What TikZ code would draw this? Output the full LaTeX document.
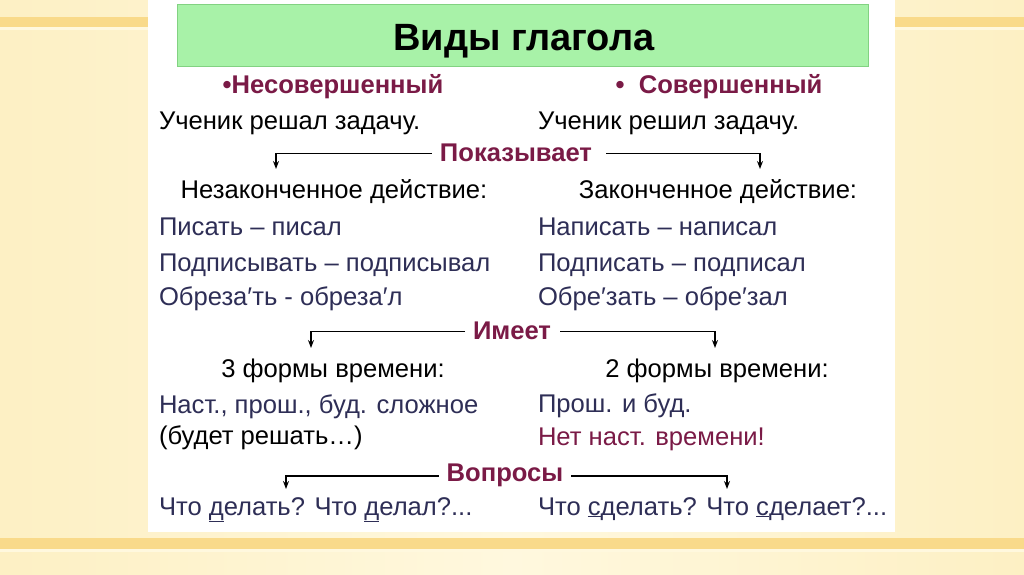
\documentclass[tikz,border=0pt]{standalone}
\usepackage{fontspec}
\setmainfont{Liberation Sans}
\usetikzlibrary{arrows.meta}
\definecolor{maroon}{RGB}{122,26,70}
\definecolor{navy}{RGB}{46,46,86}
\definecolor{bgyel}{RGB}{253,240,196}
\definecolor{bglight}{RGB}{255,248,222}
\definecolor{stripe}{RGB}{249,218,138}
\definecolor{titlefill}{RGB}{168,242,168}
\definecolor{titledraw}{RGB}{130,210,130}
\begin{document}
\begin{tikzpicture}[x=1pt,y=-1pt,
  every node/.style={inner sep=0pt,outer sep=0pt},
  txt/.style={anchor=base west,font=\fontsize{25.6}{30}\selectfont},
  ctr/.style={anchor=base,font=\fontsize{25.6}{30}\selectfont},
  hdr/.style={anchor=base,font=\fontsize{25.6}{30}\selectfont\bfseries,text=maroon},
  ex/.style={txt,text=navy},
  arr/.style={line width=1.6pt,-{Stealth[length=8pt,width=6pt]}}]
\useasboundingbox (0,0) rectangle (1024,574);
% background
\shade[left color=bgyel,right color=bgyel,middle color=bglight] (0,0) rectangle (1024,574);
\fill[stripe] (0,17) rectangle (1024,27);
\fill[bglight] (0,27) rectangle (1024,30);
\fill[stripe] (0,538) rectangle (1024,549);
\fill[bglight] (0,549) rectangle (1024,552);
% white panel
\fill[white] (148,0) rectangle (895,532);
% title
\node[draw=titledraw,fill=titlefill,line width=1pt,minimum width=691pt,minimum height=62pt,anchor=north west] (titlebox) at (177,4) {};
\node[anchor=base,font=\fontsize{38}{44}\selectfont\bfseries] (title) at (524,50) {Виды глагола};
% headers
\node[hdr] (nesov) at (333,93) {•Несовершенный};
\node[hdr] (sov) at (719,93) {•\ \ Совершенный};
\node[txt] (exL) at (159,129) {Ученик решал задачу.};
\node[txt] (exR) at (538,129) {Ученик решил задачу.};
% Показывает
\node[hdr] (pok) at (516,161) {Показывает};
\coordinate (pokL) at (276,169);
\coordinate (pokR) at (760,169);
\draw[arr] ([xshift=-8pt,yshift=-1pt]pok.west) -| (pokL);
\draw[arr] ([xshift=14pt,yshift=-1pt]pok.east) -| (pokR);
\node[ctr] (nezak) at (334,198) {Незаконченное действие:};
\node[ctr] (zak) at (718,198) {Законченное действие:};
\node[ex] (l1) at (159,235) {Писать – писал};
\node[ex] (l2) at (159,271) {Подписывать – подписывал};
\node[ex] (l3) at (159,305) {Обреза′ть - обреза′л};
\node[ex] (r1) at (538,235) {Написать – написал};
\node[ex] (r2) at (538,271) {Подписать – подписал};
\node[ex] (r3) at (538,305) {Обре′зать – обре′зал};
% Имеет
\node[hdr] (imeet) at (512,339) {Имеет};
\coordinate (imL) at (311,348);
\coordinate (imR) at (715,348);
\draw[arr] ([xshift=-8pt,yshift=-1pt]imeet.west) -| (imL);
\draw[arr] ([xshift=9pt,yshift=-1pt]imeet.east) -| (imR);
\node[ctr] (f3) at (333,377) {3 формы времени:};
\node[ctr] (f2) at (717,377) {2 формы времени:};
\node[ex] (l4) at (159,413) {Наст., прош., буд. сложное};
\node[txt] (l5) at (159,444) {(будет решать…)};
\node[ex] (r4) at (538,412) {Прош. и буд.};
\node[txt,text=maroon] (r5) at (538,445) {Нет наст. времени!};
% Вопросы
\node[hdr] (vopr) at (505,481) {Вопросы};
\coordinate (voL) at (286,489);
\coordinate (voR) at (727,489);
\draw[arr] ([xshift=-8pt,yshift=-1pt]vopr.west) -| (voL);
\draw[arr] ([xshift=8pt,yshift=-1pt]vopr.east) -| (voR);
\node[ex] (l6) at (159,515) {Что \underline{д}елать? Что \underline{д}елал?...};
\node[ex] (r6) at (538,515) {Что \underline{с}делать? Что \underline{с}делает?...};
\end{tikzpicture}
\end{document}
